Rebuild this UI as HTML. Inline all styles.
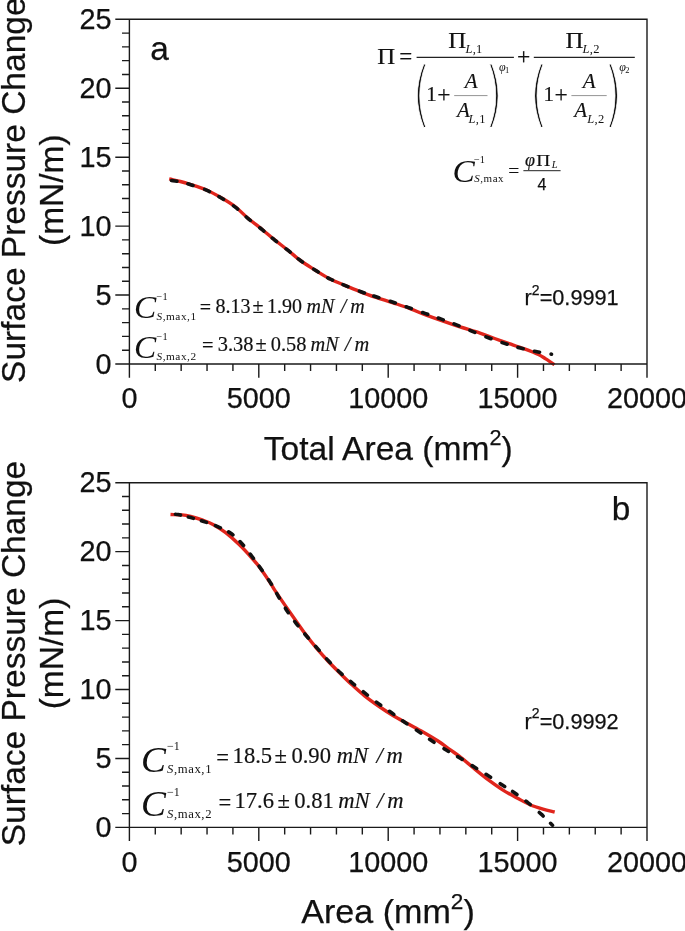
<!DOCTYPE html>
<html lang="en"><head><meta charset="utf-8"><title>Surface pressure change versus area</title>
<style>html,body{margin:0;padding:0;background:#fff}svg{display:block}text{fill:#111}</style></head><body>
<svg width="685" height="931" viewBox="0 0 685 931" font-family="'Liberation Sans', sans-serif" stroke="#111" stroke-width="0.25">
<rect width="685" height="931" fill="#fff" stroke="none"/>
<g id="panel-a">
<path d="M169.2 178.8C171.1 179.2 176.8 180.6 180.4 181.5C184.0 182.4 186.3 183.1 190.7 184.5C195.1 185.9 201.9 188.0 207.0 190.2C212.1 192.4 216.5 195.0 221.3 197.8C226.1 200.6 231.2 203.6 235.6 207.0C240.0 210.4 243.5 214.4 247.9 218.2C252.3 221.9 257.8 225.9 262.2 229.5C266.6 233.1 270.0 236.2 274.4 239.7C278.8 243.2 284.2 247.2 288.5 250.7C292.8 254.2 295.8 257.2 300.4 260.5C304.9 263.8 310.9 267.4 315.8 270.5C320.8 273.6 325.2 276.5 330.1 279.0C335.0 281.5 340.1 283.4 345.4 285.6C350.7 287.8 356.6 290.3 361.7 292.3C366.8 294.3 371.0 295.7 376.1 297.4C381.2 299.1 386.9 300.8 392.4 302.6C397.8 304.4 403.1 306.0 408.8 308.1C414.5 310.2 419.0 312.5 426.3 315.2C433.6 317.9 443.6 321.4 452.5 324.4C461.4 327.4 473.0 330.8 480.0 333.1C487.0 335.5 489.7 336.8 494.6 338.5C499.5 340.2 504.3 341.9 509.2 343.6C514.1 345.3 518.9 346.9 523.8 348.7C528.7 350.5 534.8 352.8 538.4 354.5C542.0 356.2 543.0 357.2 545.7 358.9C548.4 360.6 553.0 363.7 554.5 364.7" fill="none" stroke="#e0251c" stroke-width="3.4" stroke-linecap="butt"/>
<path d="M170.5 180.3C172.2 180.6 177.0 181.2 180.4 181.9C183.8 182.6 186.3 183.3 190.7 184.7C195.1 186.1 201.9 188.2 207.0 190.4C212.1 192.6 216.5 195.2 221.3 198.0C226.1 200.8 231.2 204.0 235.6 207.4C240.0 210.8 243.5 214.7 247.9 218.4C252.3 222.1 257.8 226.1 262.2 229.7C266.6 233.3 270.0 236.4 274.4 239.9C278.8 243.4 284.2 247.3 288.5 250.7C292.8 254.1 295.8 257.2 300.4 260.5C304.9 263.8 310.9 267.4 315.8 270.5C320.8 273.6 325.2 276.5 330.1 279.0C335.0 281.5 340.1 283.4 345.4 285.6C350.7 287.8 356.6 290.1 361.7 292.0C366.8 293.9 371.0 295.1 376.1 296.8C381.2 298.5 387.1 300.2 392.4 302.0C397.7 303.8 402.5 305.5 407.9 307.4C413.3 309.3 419.5 311.5 425.0 313.4C430.5 315.3 435.4 317.0 440.7 318.9C445.9 320.8 451.2 322.8 456.5 324.9C461.8 327.0 467.0 329.2 472.3 331.4C477.6 333.5 483.0 335.8 488.4 337.8C493.8 339.8 499.1 341.7 504.5 343.4C509.9 345.1 515.1 346.7 520.5 348.1C525.9 349.5 531.7 350.7 536.9 351.7C542.1 352.7 549.1 353.8 551.5 354.2" fill="none" stroke="#111" stroke-width="3.6" stroke-dasharray="5.30 11.61 5.30 11.98 5.30 10.91 5.30 11.82 5.30 11.79 5.30 11.77 5.30 11.18 5.30 11.91 5.30 10.68 5.30 13.07 5.30 11.34 5.30 11.37 5.30 12.21 5.30 10.15 5.30 11.82 5.30 11.70 5.30 11.95 5.30 11.34 5.30 11.60 5.30 11.78 5.30 12.03 5.30 11.75 5.30 11.38 5.30 11.49 5.30 11.56 0.60 474.43" stroke-linecap="round" stroke-dashoffset="-1.15"/>
<path d="M129.40 19.30H647.00V364.00H129.40ZM129.40 364.00h-14.10M129.40 350.21h-7.40M129.40 336.42h-7.40M129.40 322.64h-7.40M129.40 308.85h-7.40M129.40 295.06h-14.10M129.40 281.27h-7.40M129.40 267.48h-7.40M129.40 253.70h-7.40M129.40 239.91h-7.40M129.40 226.12h-14.10M129.40 212.33h-7.40M129.40 198.54h-7.40M129.40 184.76h-7.40M129.40 170.97h-7.40M129.40 157.18h-14.10M129.40 143.39h-7.40M129.40 129.60h-7.40M129.40 115.82h-7.40M129.40 102.03h-7.40M129.40 88.24h-14.10M129.40 74.45h-7.40M129.40 60.66h-7.40M129.40 46.88h-7.40M129.40 33.09h-7.40M129.40 19.30h-14.10M129.40 364.00v13.70M155.28 364.00v7.00M181.16 364.00v7.00M207.04 364.00v7.00M232.92 364.00v7.00M258.80 364.00v13.70M284.68 364.00v7.00M310.56 364.00v7.00M336.44 364.00v7.00M362.32 364.00v7.00M388.20 364.00v13.70M414.08 364.00v7.00M439.96 364.00v7.00M465.84 364.00v7.00M491.72 364.00v7.00M517.60 364.00v13.70M543.48 364.00v7.00M569.36 364.00v7.00M595.24 364.00v7.00M621.12 364.00v7.00M647.00 364.00v13.70" fill="none" stroke="#1a1a1a" stroke-width="1.40" stroke-linecap="butt"/>
<g font-size="28.8" text-anchor="end">
<text x="111.6" y="373.7">0</text>
<text x="111.6" y="304.8">5</text>
<text x="111.6" y="235.8">10</text>
<text x="111.6" y="166.9">15</text>
<text x="111.6" y="97.9">20</text>
<text x="111.6" y="29.0">25</text>
</g>
<g font-size="28.8" text-anchor="middle">
<text x="129.4" y="408.3">0</text>
<text x="258.8" y="408.3">5000</text>
<text x="388.2" y="408.3">10000</text>
<text x="517.6" y="408.3">15000</text>
<text x="647.0" y="408.3">20000</text>
</g>
<g font-size="33.5" text-anchor="middle">
<text transform="translate(25.0 190.2) rotate(-90)">Surface Pressure Change</text>
<text transform="translate(63.3 190.2) rotate(-90)">(mN/m)</text>
</g>
<text x="150.2" y="59.8" font-size="33.4">a</text>
<text x="388.2" y="459.9" font-size="33.6" text-anchor="middle">Total Area (mm<tspan font-size="21.6" dy="-14.5">2</tspan><tspan dy="14.5">)</tspan></text>
<text x="524.6" y="305.3" font-size="21.7">r<tspan font-size="14" dy="-10.3">2</tspan><tspan dy="10.3">=0.9991</tspan></text>
<g font-family="'Liberation Serif', serif" stroke="#111" stroke-width="0.18">
<text transform="translate(377.2 63.5) scale(1.100 1)" font-size="22.6">Π</text>
<text x="399.2" y="64.2" font-size="23">=</text>
<text x="517.0" y="63.9" font-size="23.5">+</text>
</g>
<g font-family="'Liberation Serif', serif" stroke="#111" stroke-width="0.18">
<path d="M416.6 57.3H513.9" stroke="#222" stroke-width="1.15"/>
<text transform="translate(448.2 47.6) scale(1.100 1)" font-size="22.6">Π</text>
<text x="465.4" y="53.2" font-size="12.5" letter-spacing="0.3" stroke="none"><tspan font-style="italic">L</tspan>,1</text>
<text transform="translate(412.3 117.6) scale(0.67 1)" font-size="70.8" font-family="'DejaVu Sans Light', 'DejaVu Sans', sans-serif" stroke="#fff" stroke-width="0.9" fill="#1a1a1a">(</text>
<text transform="translate(484.5 117.6) scale(0.67 1)" font-size="70.8" font-family="'DejaVu Sans Light', 'DejaVu Sans', sans-serif" stroke="#fff" stroke-width="0.9" fill="#1a1a1a">)</text>
<text x="426.3" y="101" font-size="21">1</text>
<text x="437.3" y="101.6" font-size="23.5">+</text>
<path d="M454.2 95.6H487.5" stroke="#777" stroke-width="0.8"/>
<text x="464.8" y="87.9" font-size="21" font-style="italic">A</text>
<text x="457.0" y="117.4" font-size="21" font-style="italic">A</text>
<text x="468.6" y="123.0" font-size="12.5" letter-spacing="0.3" stroke="none"><tspan font-style="italic">L</tspan>,1</text>
<text x="499.0" y="71.2" font-size="12" stroke="none"><tspan font-style="italic">φ</tspan><tspan font-size="8.5" dy="1.6" dx="-0.6">1</tspan></text>
</g>
<g font-family="'Liberation Serif', serif" stroke="#111" stroke-width="0.18">
<path d="M533.8 57.3H634.8" stroke="#222" stroke-width="1.15"/>
<text transform="translate(565.4 47.6) scale(1.100 1)" font-size="22.6">Π</text>
<text x="582.6" y="53.2" font-size="12.5" letter-spacing="0.3" stroke="none"><tspan font-style="italic">L</tspan>,2</text>
<text transform="translate(529.5 117.6) scale(0.67 1)" font-size="70.8" font-family="'DejaVu Sans Light', 'DejaVu Sans', sans-serif" stroke="#fff" stroke-width="0.9" fill="#1a1a1a">(</text>
<text transform="translate(603.7 117.6) scale(0.67 1)" font-size="70.8" font-family="'DejaVu Sans Light', 'DejaVu Sans', sans-serif" stroke="#fff" stroke-width="0.9" fill="#1a1a1a">)</text>
<text x="543.5" y="101" font-size="21">1</text>
<text x="554.5" y="101.6" font-size="23.5">+</text>
<path d="M571.4 95.6H606.7" stroke="#777" stroke-width="0.8"/>
<text x="582.8" y="87.9" font-size="21" font-style="italic">A</text>
<text x="574.2" y="117.4" font-size="21" font-style="italic">A</text>
<text x="587.3" y="123.0" font-size="12.5" letter-spacing="0.3" stroke="none"><tspan font-style="italic">L</tspan>,2</text>
<text x="619.2" y="71.2" font-size="12" stroke="none"><tspan font-style="italic">φ</tspan><tspan font-size="8.5" dy="1.6" dx="-0.6">2</tspan></text>
</g>
<g font-family="'Liberation Serif', serif" stroke="#111" stroke-width="0.18">
<text transform="translate(452.6 181.6) scale(1.06 1)" font-size="31.5" font-style="italic" stroke="none">C</text>
<text x="474.0" y="163.1" font-size="10.3" stroke="none">−1</text>
<text x="474.3" y="181.9" font-size="11.0" letter-spacing="0.52" stroke="none"><tspan font-style="italic">S</tspan>,max</text>
</g>
<g font-family="'Liberation Serif', serif" stroke="#111" stroke-width="0.18">
<text x="508.2" y="177.0" font-size="19.5">=</text>
<path d="M523.4 170.7H560.6" stroke="#222" stroke-width="1"/>
<text x="525.0" y="166.2" font-size="18" font-style="italic">φ</text>
<text transform="translate(536.2 166.2) scale(1.100 1)" font-size="17.6">Π</text>
<text x="551.8" y="168.4" font-size="10.5" font-style="italic" stroke="none">L</text>
</g>
<text x="537.5" y="189.7" font-size="16">4</text>
<g font-family="'Liberation Serif', serif" stroke="#111" stroke-width="0.18">
<text transform="translate(134.0 317.9) scale(1.06 1)" font-size="31.5" font-style="italic" stroke="none">C</text>
<text x="156.6" y="300.4" font-size="10.3" stroke="none">−1</text>
<text x="156.5" y="319.6" font-size="11.3" letter-spacing="0.53" stroke="none"><tspan font-style="italic">S</tspan>,max,1</text>
<text x="199.8" y="314.2" font-size="20.0">=</text>
<text x="215.5" y="312.5" font-size="20.0">8.13</text>
<text x="252.6" y="312.5" font-size="20.0">±</text>
<text x="267.0" y="312.5" font-size="20.0">1.90</text>
<text x="306.5" y="312.5" font-size="20.0" font-style="italic">mN</text>
<text x="340.8" y="312.5" font-size="20.0" font-style="italic">/</text>
<text x="350.3" y="312.5" font-size="20.0" font-style="italic">m</text>
</g>
<g font-family="'Liberation Serif', serif" stroke="#111" stroke-width="0.18">
<text transform="translate(134.0 357.6) scale(1.06 1)" font-size="31.5" font-style="italic" stroke="none">C</text>
<text x="156.6" y="340.1" font-size="10.3" stroke="none">−1</text>
<text x="156.5" y="360.2" font-size="11.3" letter-spacing="0.53" stroke="none"><tspan font-style="italic">S</tspan>,max,2</text>
<text x="202.0" y="352.4" font-size="20.4">=</text>
<text x="217.8" y="350.7" font-size="20.4">3.38</text>
<text x="255.6" y="350.7" font-size="20.4">±</text>
<text x="270.8" y="350.7" font-size="20.4">0.58</text>
<text x="310.4" y="350.7" font-size="20.4" font-style="italic">mN</text>
<text x="344.8" y="350.7" font-size="20.4" font-style="italic">/</text>
<text x="354.5" y="350.7" font-size="20.4" font-style="italic">m</text>
</g>
</g>
<g id="panel-b">
<path d="M170.5 514.5C172.4 514.6 178.5 514.6 181.9 514.9C185.3 515.2 187.2 515.6 190.7 516.5C194.2 517.4 199.2 518.9 202.9 520.2C206.6 521.5 209.2 522.4 213.0 524.5C216.8 526.6 221.2 529.2 225.7 532.6C230.1 536.0 235.5 540.9 239.7 545.0C243.9 549.1 247.6 553.2 251.0 557.0C254.4 560.8 256.9 563.7 260.1 568.0C263.3 572.3 268.0 579.4 270.4 583.0C272.8 586.6 272.0 586.0 274.4 589.6C276.8 593.2 281.2 599.7 284.6 604.6C288.0 609.5 291.4 614.4 294.8 619.2C298.2 624.0 301.4 628.7 305.0 633.6C308.6 638.5 312.8 643.8 316.7 648.4C320.6 653.0 324.3 657.1 328.4 661.5C332.5 665.9 337.6 670.8 341.5 674.7C345.4 678.6 348.1 681.3 352.0 684.8C355.9 688.3 360.1 692.2 364.6 695.8C369.1 699.4 374.3 703.1 379.2 706.5C384.1 709.9 388.9 713.1 393.8 716.0C398.7 718.9 403.5 721.3 408.4 724.0C413.3 726.7 418.1 729.2 423.0 732.0C427.9 734.8 433.1 737.9 437.6 740.8C442.1 743.7 446.4 747.0 450.0 749.6C453.6 752.2 455.2 753.1 459.2 756.2C463.2 759.3 468.9 764.2 473.8 768.2C478.7 772.2 483.5 776.2 488.4 779.9C493.3 783.5 498.1 787.0 503.0 790.1C507.9 793.2 513.1 795.9 517.6 798.3C522.1 800.7 525.8 802.9 530.0 804.7C534.2 806.5 538.9 807.9 543.0 809.1C547.1 810.3 552.8 811.5 554.7 812.0" fill="none" stroke="#e0251c" stroke-width="3.4" stroke-linecap="butt"/>
<path d="M172.8 514.3C173.7 514.3 175.2 514.0 178.2 514.6C181.2 515.2 186.4 516.5 190.7 517.6C195.0 518.8 199.3 520.0 203.8 521.5C208.3 523.0 213.2 524.6 217.7 526.6C222.2 528.6 226.8 530.5 230.8 533.3C234.8 536.1 238.3 539.7 241.8 543.5C245.3 547.3 248.6 552.2 251.7 556.2C254.8 560.2 257.0 563.2 260.1 567.6C263.2 572.0 267.4 577.9 270.4 582.6C273.4 587.3 275.3 591.2 278.0 595.8C280.7 600.4 283.8 605.8 286.8 610.4C289.9 615.0 293.0 619.3 296.3 623.6C299.6 627.9 303.0 631.9 306.5 636.0C310.0 640.1 313.8 644.3 317.4 648.4C321.0 652.5 324.6 656.8 328.4 660.8C332.2 664.8 336.1 668.8 340.1 672.5C344.2 676.2 348.5 679.8 352.7 683.3C356.9 686.8 361.0 690.0 365.3 693.4C369.6 696.8 374.1 700.4 378.5 703.6C382.9 706.8 387.2 709.7 391.6 712.8C396.0 715.9 400.2 719.2 404.7 722.3C409.2 725.4 414.1 728.4 418.6 731.5C423.1 734.6 427.2 737.7 431.8 740.8C436.4 743.9 441.5 747.1 446.2 750.0C450.9 752.9 455.2 755.2 459.9 758.0C464.6 760.8 469.6 764.0 474.3 767.0C479.0 770.0 483.6 772.7 488.3 775.7C493.0 778.7 497.9 782.1 502.3 785.0C506.7 787.9 510.5 790.0 514.8 793.0C519.1 796.0 523.7 799.3 528.1 802.8C532.5 806.3 537.1 810.5 541.2 814.2C545.3 817.9 550.6 823.4 552.5 825.2" fill="none" stroke="#111" stroke-width="3.6" stroke-dasharray="5.30 7.78 5.30 8.39 5.30 9.52 5.30 9.19 5.30 9.73 5.30 10.81 5.30 9.96 5.30 10.95 5.30 10.78 5.30 11.75 5.30 10.97 5.30 10.76 5.30 11.21 5.30 11.28 5.30 11.25 5.30 11.02 5.30 11.12 5.30 11.38 5.30 10.71 5.30 10.88 5.30 11.37 5.30 10.85 5.30 11.79 5.30 10.57 5.30 11.68 5.30 11.18 5.30 11.51 5.30 9.54 5.30 11.22 5.30 12.07 5.30 10.36 2.76 551.42" stroke-linecap="round" stroke-dashoffset="-2.77"/>
<path d="M129.40 482.70H647.00V827.40H129.40ZM129.40 827.40h-14.10M129.40 813.61h-7.40M129.40 799.82h-7.40M129.40 786.04h-7.40M129.40 772.25h-7.40M129.40 758.46h-14.10M129.40 744.67h-7.40M129.40 730.88h-7.40M129.40 717.10h-7.40M129.40 703.31h-7.40M129.40 689.52h-14.10M129.40 675.73h-7.40M129.40 661.94h-7.40M129.40 648.16h-7.40M129.40 634.37h-7.40M129.40 620.58h-14.10M129.40 606.79h-7.40M129.40 593.00h-7.40M129.40 579.22h-7.40M129.40 565.43h-7.40M129.40 551.64h-14.10M129.40 537.85h-7.40M129.40 524.06h-7.40M129.40 510.28h-7.40M129.40 496.49h-7.40M129.40 482.70h-14.10M129.40 827.40v13.70M155.28 827.40v7.00M181.16 827.40v7.00M207.04 827.40v7.00M232.92 827.40v7.00M258.80 827.40v13.70M284.68 827.40v7.00M310.56 827.40v7.00M336.44 827.40v7.00M362.32 827.40v7.00M388.20 827.40v13.70M414.08 827.40v7.00M439.96 827.40v7.00M465.84 827.40v7.00M491.72 827.40v7.00M517.60 827.40v13.70M543.48 827.40v7.00M569.36 827.40v7.00M595.24 827.40v7.00M621.12 827.40v7.00M647.00 827.40v13.70" fill="none" stroke="#1a1a1a" stroke-width="1.40" stroke-linecap="butt"/>
<g font-size="28.8" text-anchor="end">
<text x="111.6" y="837.1">0</text>
<text x="111.6" y="768.2">5</text>
<text x="111.6" y="699.2">10</text>
<text x="111.6" y="630.3">15</text>
<text x="111.6" y="561.3">20</text>
<text x="111.6" y="492.4">25</text>
</g>
<g font-size="28.8" text-anchor="middle">
<text x="129.4" y="871.7">0</text>
<text x="258.8" y="871.7">5000</text>
<text x="388.2" y="871.7">10000</text>
<text x="517.6" y="871.7">15000</text>
<text x="647.0" y="871.7">20000</text>
</g>
<g font-size="33.5" text-anchor="middle">
<text transform="translate(25.0 653.5) rotate(-90)">Surface Pressure Change</text>
<text transform="translate(63.3 653.5) rotate(-90)">(mN/m)</text>
</g>
<text x="611.7" y="520.0" font-size="33.4">b</text>
<text x="388.0" y="923.4" font-size="34.1" text-anchor="middle">Area (mm<tspan font-size="22.6" dy="-14.5">2</tspan><tspan dy="14.5">)</tspan></text>
<text x="524.6" y="728.5" font-size="21.7">r<tspan font-size="14" dy="-10.3">2</tspan><tspan dy="10.3">=0.9992</tspan></text>
<g font-family="'Liberation Serif', serif" stroke="#111" stroke-width="0.18">
<text transform="translate(140.9 771.5) scale(1.06 1)" font-size="35.3" font-style="italic" stroke="none">C</text>
<text x="167.0" y="749.8" font-size="12.0" stroke="none">−1</text>
<text x="167.0" y="772.6" font-size="12.7" letter-spacing="0.60" stroke="none"><tspan font-style="italic">S</tspan>,max,1</text>
<text x="216.2" y="764.7" font-size="22.6">=</text>
<text x="232.6" y="762.8" font-size="22.6">18.5</text>
<text x="274.6" y="762.8" font-size="22.6">±</text>
<text x="291.4" y="762.8" font-size="22.6">0.90</text>
<text x="336.8" y="762.8" font-size="22.6" font-style="italic">mN</text>
<text x="376.4" y="762.8" font-size="22.6" font-style="italic">/</text>
<text x="386.4" y="762.8" font-size="22.6" font-style="italic">m</text>
</g>
<g font-family="'Liberation Serif', serif" stroke="#111" stroke-width="0.18">
<text transform="translate(140.9 816.4) scale(1.06 1)" font-size="35.3" font-style="italic" stroke="none">C</text>
<text x="167.0" y="795.8" font-size="12.0" stroke="none">−1</text>
<text x="167.0" y="818.0" font-size="12.7" letter-spacing="0.60" stroke="none"><tspan font-style="italic">S</tspan>,max,2</text>
<text x="218.6" y="809.9" font-size="22.6">=</text>
<text x="234.5" y="808.0" font-size="22.6">17.6</text>
<text x="277.5" y="808.0" font-size="22.6">±</text>
<text x="294.3" y="808.0" font-size="22.6">0.81</text>
<text x="338.3" y="808.0" font-size="22.6" font-style="italic">mN</text>
<text x="377.0" y="808.0" font-size="22.6" font-style="italic">/</text>
<text x="387.3" y="808.0" font-size="22.6" font-style="italic">m</text>
</g>
</g>
</svg></body></html>
